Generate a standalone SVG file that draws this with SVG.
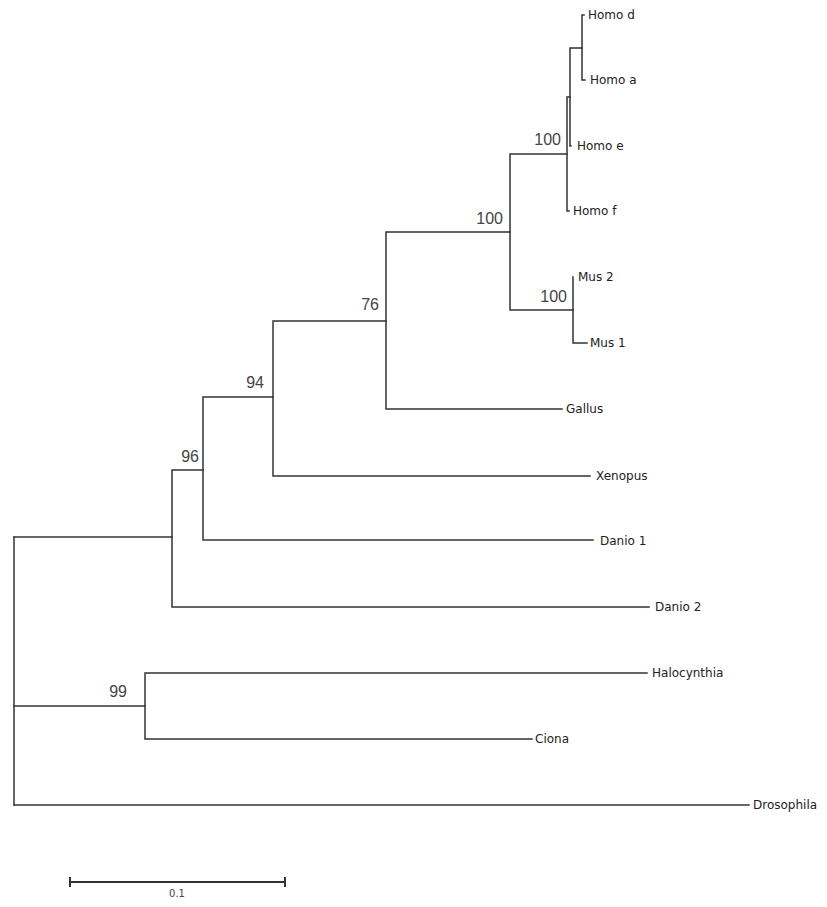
<svg xmlns="http://www.w3.org/2000/svg" width="827" height="907" viewBox="0 0 827 907">
<style>
.br{fill:none;stroke:#333;stroke-width:1.5;stroke-linecap:square}
.tx{font-family:"DejaVu Sans",sans-serif;font-size:12px;fill:#222}
.bs{font-family:"Liberation Sans",Arial,sans-serif;font-size:16px;fill:#444;text-anchor:end}
.sc{font-family:"DejaVu Sans",sans-serif;font-size:10px;fill:#444;text-anchor:middle}
</style>
<rect width="827" height="907" fill="#fff"/>
<g id="connectors">
<path class="br" d="M14 537V805"/>
<path class="br" d="M14 537H172"/>
<path class="br" d="M14 706H145"/>
<path class="br" d="M14 805H749"/>
<path class="br" d="M145 673V739M145 673H647M145 739H532"/>
<path class="br" d="M172 470V607M172 470H203M172 607H649"/>
<path class="br" d="M203 397V540M203 397H273M203 540H593"/>
<path class="br" d="M273 321V476M273 321H386M273 476H590"/>
<path class="br" d="M386 232V409M386 232H510M386 409H562"/>
<path class="br" d="M510 154V310M510 154H567M510 310H573"/>
<path class="br" d="M573 277V343M573 343H587"/>
<path class="br" d="M567 97V211M567 97H570M567 211H569"/>
<path class="br" d="M570 48V146M570 48H582M570 146H571"/>
<path class="br" d="M582 15V80M582 15H584M582 80H585"/>
</g>
<g id="bootstrap">
<text class="bs" x="561" y="145">100</text>
<text class="bs" x="503" y="224">100</text>
<text class="bs" x="567" y="302">100</text>
<text class="bs" x="379" y="310">76</text>
<text class="bs" x="264" y="388">94</text>
<text class="bs" x="199" y="462">96</text>
<text class="bs" x="127" y="697">99</text>
</g>
<g id="taxon-homo-d"><text class="tx" x="588" y="19">Homo d</text></g>
<g id="taxon-homo-a"><text class="tx" x="590" y="84">Homo a</text></g>
<g id="taxon-homo-e"><text class="tx" x="577" y="150">Homo e</text></g>
<g id="taxon-homo-f"><text class="tx" x="573" y="215">Homo f</text></g>
<g id="taxon-mus-2"><text class="tx" x="578" y="281">Mus 2</text></g>
<g id="taxon-mus-1"><text class="tx" x="590" y="347">Mus 1</text></g>
<g id="taxon-gallus"><text class="tx" x="566" y="413">Gallus</text></g>
<g id="taxon-xenopus"><text class="tx" x="596" y="480">Xenopus</text></g>
<g id="taxon-danio-1"><text class="tx" x="600" y="545">Danio 1</text></g>
<g id="taxon-danio-2"><text class="tx" x="655" y="611">Danio 2</text></g>
<g id="taxon-halocynthia"><text class="tx" x="652" y="677">Halocynthia</text></g>
<g id="taxon-ciona"><text class="tx" x="535" y="743">Ciona</text></g>
<g id="taxon-drosophila"><text class="tx" x="753" y="809">Drosophila</text></g>
<g id="scale-bar">
<path class="br" d="M70 882H285M70 877V887M285 877V887" style="stroke-width:2;stroke-linecap:butt"/>
<text class="sc" x="177" y="897">0.1</text>
</g>
</svg>
